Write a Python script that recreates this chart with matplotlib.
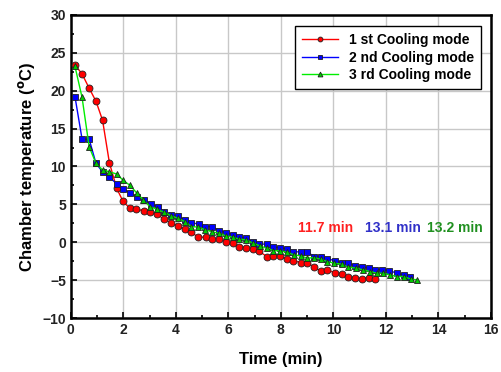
import matplotlib.pyplot as plt
from matplotlib.ticker import MultipleLocator

plt.rcParams['font.family'] = ['Liberation Sans', 'DejaVu Sans']
plt.rcParams['font.weight'] = 'bold'

# 1st cooling mode
t1 = [0.16, 0.43, 0.69, 0.96, 1.21, 1.47, 1.75, 1.99, 2.24, 2.50, 2.77, 3.02,
      3.28, 3.55, 3.82, 4.07, 4.34, 4.59, 4.85, 5.13, 5.38, 5.65, 5.90, 6.17,
      6.42, 6.67, 6.93, 7.18, 7.46, 7.71, 7.97, 8.22, 8.48, 8.76, 9.01, 9.27,
      9.52, 9.77, 10.06, 10.32, 10.57, 10.83, 11.09, 11.35, 11.60]
T1 = [23.4, 22.2, 20.4, 18.6, 16.1, 10.5, 7.1, 5.4, 4.5, 4.45, 4.1, 4.0,
      3.7, 3.05, 2.6, 2.16, 1.73, 1.33, 0.67, 0.67, 0.45, 0.4, 0.1, -0.1,
      -0.65, -0.7, -0.87, -1.2, -1.88, -1.8, -1.84, -2.2, -2.45, -2.67, -2.7, -3.3,
      -3.8, -3.7, -4.0, -4.2, -4.6, -4.74, -4.83, -4.7, -4.87]

# 2nd cooling mode
t2 = [0.16, 0.43, 0.70, 0.96, 1.21, 1.47, 1.75, 2.00, 2.26, 2.51, 2.77, 3.04,
      3.31, 3.55, 3.82, 4.07, 4.34, 4.59, 4.87, 5.12, 5.39, 5.65, 5.90, 6.17,
      6.42, 6.67, 6.93, 7.18, 7.46, 7.71, 7.97, 8.22, 8.48, 8.76, 9.01, 9.27,
      9.52, 9.77, 10.06, 10.32, 10.57, 10.83, 11.09, 11.35, 11.60, 11.86, 12.13,
      12.41, 12.67, 12.92]
T2 = [19.2, 13.6, 13.6, 10.4, 9.3, 8.6, 7.7, 7.05, 6.5, 6.0, 5.6, 5.1,
      4.67, 4.05, 3.57, 3.4, 3.0, 2.6, 2.38, 2.07, 2.07, 1.55, 1.28, 0.98,
      0.67, 0.54, 0.1, -0.23, -0.25, -0.65, -0.7, -0.87, -1.22, -1.3, -1.3, -1.88,
      -1.97, -2.15, -2.45, -2.72, -2.76, -3.1, -3.3, -3.38, -3.64, -3.64, -3.73,
      -4.08, -4.3, -4.6]

# 3rd cooling mode
t3 = [0.16, 0.43, 0.70, 0.96, 1.21, 1.47, 1.75, 2.00, 2.26, 2.51, 2.76, 3.01,
      3.27, 3.55, 3.82, 4.07, 4.34, 4.59, 4.85, 5.12, 5.39, 5.65, 5.90, 6.17,
      6.42, 6.67, 6.93, 7.21, 7.46, 7.71, 7.97, 8.25, 8.50, 8.76, 9.01, 9.27,
      9.52, 9.77, 10.03, 10.32, 10.57, 10.86, 11.12, 11.40, 11.65, 11.90, 12.16,
      12.41, 12.69, 12.95, 13.20]
T3 = [23.2, 19.1, 12.6, 10.4, 9.55, 9.3, 9.0, 8.15, 7.5, 6.5, 5.6, 4.7,
      4.37, 3.97, 3.5, 3.17, 2.73, 2.07, 2.0, 1.64, 1.37, 1.2, 0.84, 0.67,
      0.41, 0.32, -0.1, -0.5, -0.78, -1.1, -1.13, -1.35, -1.66, -1.8, -2.1, -2.02,
      -2.24, -2.55, -2.76, -2.9, -3.3, -3.4, -3.64, -3.86, -4.08, -4.08, -4.3,
      -4.52, -4.52, -4.87, -4.96]

labels = ['1 st Cooling mode', '2 nd Cooling mode', '3 rd Cooling mode']
end_times = ['11.7 min', '13.1 min', '13.2 min']

fig = plt.figure(figsize=(5.02, 3.72), dpi=100)
ax = fig.add_axes([0.141, 0.145, 0.837, 0.815])

ax.plot(t1, T1, color='#ff0000', lw=1, marker='o', ms=5, mfc='#ff0000',
        mec='#202020', mew=0.6, label=labels[0], zorder=3)
ax.plot(t2, T2, color='#0000ff', lw=1, marker='s', ms=5, mfc='#0000ff',
        mec='#202020', mew=0.6, label=labels[1], zorder=3)
ax.plot(t3, T3, color='#00ee00', lw=1, marker='^', ms=5, mfc='#00cc00',
        mec='#202020', mew=0.6, label=labels[2], zorder=4)

# end-of-cooling times
ax.text(9.70, 1.9, end_times[0], color='#ff2020', fontsize=10,
        fontweight='bold', ha='center', va='center')
ax.text(12.25, 1.9, end_times[1], color='#3030c8', fontsize=10,
        fontweight='bold', ha='center', va='center')
ax.text(14.64, 1.9, end_times[2], color='#209020', fontsize=10,
        fontweight='bold', ha='center', va='center')

ax.set_xlim(0, 16)
ax.set_ylim(-10, 30)
ax.xaxis.set_major_locator(MultipleLocator(2))
ax.xaxis.set_minor_locator(MultipleLocator(1))
ax.yaxis.set_major_locator(MultipleLocator(5))
ax.yaxis.set_minor_locator(MultipleLocator(2.5))
ax.tick_params(which='both', direction='in', width=1.2, labelsize=10,
               colors='black')
ax.tick_params(which='major', length=4)
ax.tick_params(which='minor', length=2.5)
for lab in ax.get_xticklabels() + ax.get_yticklabels():
    lab.set_fontweight('bold')
    lab.set_color('#222222')
ax.grid(True, which='major', color='#c8c8c8', lw=1)
ax.set_axisbelow(True)
for s in ax.spines.values():
    s.set_linewidth(1.8)

ax.set_xlabel('Time (min)', fontsize=12, fontweight='bold', labelpad=11)
ax.set_ylabel('Chamber temperature ($^{\\mathbf{o}}$C)', fontsize=12,
              fontweight='bold', labelpad=4)

leg = ax.legend(loc='upper right', bbox_to_anchor=(0.994, 0.985), fontsize=10,
                markerscale=0.7, handlelength=2.6, fancybox=False,
                framealpha=1, edgecolor='black', borderpad=0.5,
                labelspacing=0.25)
leg.get_frame().set_linewidth(1)
for txt in leg.get_texts():
    txt.set_fontweight('bold')

fig.savefig('out.png', dpi=100)
